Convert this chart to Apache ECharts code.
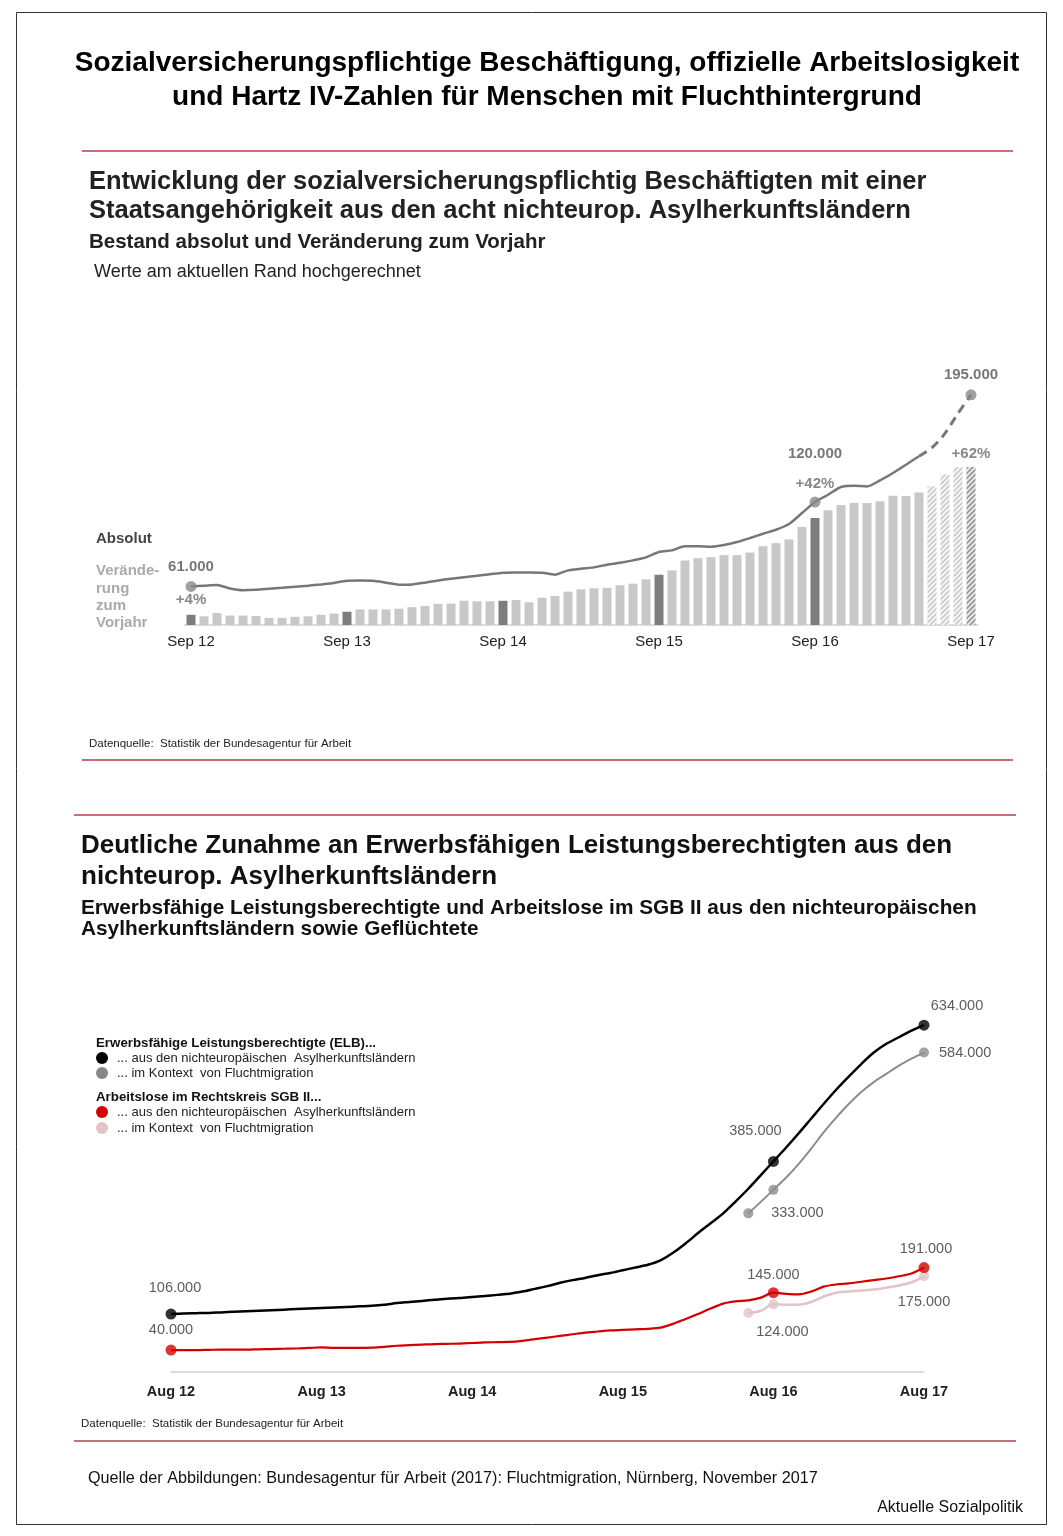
<!DOCTYPE html>
<html><head><meta charset="utf-8">
<script src="https://cdn.jsdelivr.net/npm/echarts@6/dist/echarts.min.js"></script>
<style>html,body{margin:0;padding:0;background:#fff}#c{width:1063px;height:1536px}</style>
</head><body><div id="c"></div>
<script>
// ---------- DATA ----------
const monthNames = ['Jan','Feb','Mär','Apr','Mai','Jun','Jul','Aug','Sep','Okt','Nov','Dez'];
// Top chart: monthly Sep 12 .. Sep 17
const topStart = {month: 8, year: 12};
// Beschäftigte (Bestand absolut, in Tsd.)
const beschaeftigteTsd = [61,61.5,62,59.5,58.3,58.6,59.3,60,60.8,61.5,62.4,63.4,65,
  65.1,65,63.6,62.2,62.4,63.6,65.1,66.3,67.4,68.4,69.5,70.6,
  70.8,70.8,70.6,69.2,72.2,73.4,74.3,76.2,77.5,79.2,81.3,85,
  86.2,89,89,88.7,89.9,92,94.8,97.8,100.6,104.6,112.3,120,
  125.1,130.5,131.4,130.9,135.1,140.3,146.1,152,158,168,182,195];
// Veränderung zum Vorjahr in %
const veraenderungPct = [4,3.4,4.7,3.7,3.7,3.5,2.8,2.8,3.2,3.4,4.0,4.5,5.2,
  6.1,6.1,6.1,6.4,7.0,7.5,8.3,8.4,9.5,9.3,9.3,9.5,
  9.8,8.9,10.7,11.4,13.1,14.0,14.4,14.6,15.6,16.2,17.9,19.7,
  21.4,25.3,26.2,26.6,27.4,27.4,28.4,30.9,32.1,33.5,38.4,42,
  45.0,47.1,47.8,47.8,48.5,50.7,50.6,52.0,54.3,59.0,61.9,62];
const lastActualIdx = 56;          // May 17: last non-projected line value
const projectedBarsFrom = 57;      // Jun 17..Sep 17 hochgerechnet
const topLabelIdx = [0, 48, 60];   // Sep 12, Sep 16, Sep 17

// Bottom chart: monthly Aug 12 .. Aug 17 (in Tsd.)
const bottomStart = {month: 7, year: 12};
const elbAsyl = [106,107,107.5,108,109,110,111,112,113,114,115,116,117,
  118,119,120,121,123,126,128,130,132,134,135.5,137,
  139,141,143,147,152,157,163,168,172,177,181,186,
  191,196,204,218,235,254,272,290,312,335,360,385,
  410,436,463,490,516,540,563,584,600,612,624,634];
const elbFlucht = {start: 46, values: [290,311,333,355,380,408,438,465,490,512,530,545,560,573,584]};
const alAsyl = [40,40,40,40.5,41,41,41,41.5,42,42.5,43,44,45,
  44,44,44,44.5,46,48,49,50,51,51.5,52,53,
  54,54.5,55,57,60,63,66,69,72,74,76,77,
  78,79,81,88,97,106,116,125,129,131,136,145,
  143,142,147,156,160,162,165,168,171,175,180,191];
const alFlucht = {start: 46, values: [108,112,124,123,123,128,138,145,147,149,151,154,158,164,175]};

// ---------- HELPERS ----------
function cats(start, n){
  const out=[]; for(let i=0;i<n;i++){const m=(start.month+i)%12; const y=start.year+Math.floor((start.month+i)/12); out.push(monthNames[m]+' '+y);} return out;
}
const topCats = cats(topStart, beschaeftigteTsd.length);
const botCats = cats(bottomStart, elbAsyl.length);
const fmt = v => String(Math.round(v*1000)).replace(/\B(?=(\d{3})+(?!\d))/g,'.');
const FONT = '"Liberation Sans", Arial, Helvetica, sans-serif';
function hatch(line, bg){
  const c=document.createElement('canvas'); c.width=c.height=5; const g=c.getContext('2d');
  g.fillStyle=bg; g.fillRect(0,0,5,5); g.strokeStyle=line; g.lineWidth=1.4; g.beginPath();
  g.moveTo(0,5); g.lineTo(5,0); g.moveTo(-1,1); g.lineTo(1,-1); g.moveTo(4,6); g.lineTo(6,4); g.stroke(); return c;
}
const hatchLight = {image: hatch('#c4c4c4','#f5f5f5'), repeat:'repeat'};
const hatchDark = {image: hatch('#8a8a8a','#e6e6e6'), repeat:'repeat'};

function pad(start, vals, n){ const a=new Array(n).fill(null); vals.forEach((v,i)=>a[start+i]=v); return a; }

// ---------- TOP SERIES DATA ----------
const barData = veraenderungPct.map((v,i)=>{
  let color = '#c8c8c8';
  if (i % 12 === 0) color = '#7d7d7d';
  if (i >= projectedBarsFrom) color = hatchLight;
  if (i === veraenderungPct.length-1) color = hatchDark;
  const item = {value: v, itemStyle:{color}};
  if (topLabelIdx.includes(i)) {
    item.label = {show:true, position:'top', distance: i===48?27:(i===60?6:7), formatter:'+'+v+'%',
      color:'#888', fontSize:15, fontWeight:'bold', fontFamily:FONT};
  }
  return item;
});
const lineSolid = beschaeftigteTsd.map((v,i)=> i<=lastActualIdx ? v : null);
const lineDashed = beschaeftigteTsd.map((v,i)=> i>=lastActualIdx ? v : null);
const topPoints = topLabelIdx.map(i=>({value:[i, beschaeftigteTsd[i]],
  label:{show:true, position:'top', distance: i===48?35:7, formatter: fmt(beschaeftigteTsd[i]),
  color:'#555', fontSize:15, fontWeight:'bold', fontFamily:FONT}}));

// ---------- BOTTOM SERIES DATA ----------
const N = elbAsyl.length;
const elbFluchtArr = pad(elbFlucht.start, elbFlucht.values, N);
const alFluchtArr = pad(alFlucht.start, alFlucht.values, N);
const iAug16 = 48, iAug17 = N-1;
const lblStyle = {color:'#333', fontSize:14.5, fontFamily:FONT};
function pt(i, v, label){ const o={value:[i,v]}; if(label){o.label=Object.assign({show:true, formatter: fmt(v)}, lblStyle, label);} return o; }
const ptsBlack = [pt(0, elbAsyl[0], {position:'top', distance:13, offset:[4,0]}),
  pt(iAug16, elbAsyl[iAug16], {position:'top', distance:17, offset:[-18,0]}),
  pt(iAug17, elbAsyl[iAug17], {position:'top', distance:6, offset:[33,0]})];
const ptsGray = [pt(elbFlucht.start, elbFluchtArr[elbFlucht.start]),
  pt(iAug16, elbFluchtArr[iAug16], {position:'bottom', distance:11, offset:[24,0]}),
  pt(iAug17, elbFluchtArr[iAug17], {position:'right', distance:10})];
const ptsRed = [pt(0, alAsyl[0], {position:'top', distance:7}),
  pt(iAug16, alAsyl[iAug16], {position:'top', distance:5}),
  pt(iAug17, alAsyl[iAug17], {position:'top', distance:6, offset:[2,0]})];
const ptsPink = [pt(alFlucht.start, alFluchtArr[alFlucht.start]),
  pt(iAug16, alFluchtArr[iAug16], {position:'bottom', distance:15, offset:[9,0]}),
  pt(iAug17, alFluchtArr[iAug17], {position:'bottom', distance:13})];

// ---------- GRAPHIC (texts, rules, legend) ----------
const RED = '#c46f7a';
function txt(x,y,text,font,fill,align){ return {type:'text', silent:true, style:{x, y, text, font, fill:fill||'#000',
  textAlign:align||'left', align:align||'left', textVerticalAlign:'middle', verticalAlign:'middle'}}; }
function hline(x1,x2,y,color,w){ return {type:'line', silent:true, shape:{x1,y1:y,x2,y2:y}, style:{stroke:color, lineWidth:w}}; }
const graphics = [
  {type:'rect', silent:true, shape:{x:16.5,y:12.5,width:1030,height:1512}, style:{fill:'none', stroke:'#333', lineWidth:1}},
  txt(547,63,'Sozialversicherungspflichtige Beschäftigung, offizielle Arbeitslosigkeit','bold 28px '+FONT,'#000','center'),
  txt(547,97,'und Hartz IV-Zahlen für Menschen mit Fluchthintergrund','bold 28px '+FONT,'#000','center'),
  hline(82,1013,151,RED,2),
  txt(89,182,'Entwicklung der sozialversicherungspflichtig Beschäftigten mit einer','bold 25.5px '+FONT,'#222'),
  txt(89,211,'Staatsangehörigkeit aus den acht nichteurop. Asylherkunftsländern','bold 25.5px '+FONT,'#222'),
  txt(89,242,'Bestand absolut und Veränderung zum Vorjahr','bold 20.5px '+FONT,'#222'),
  txt(94,272,'Werte am aktuellen Rand hochgerechnet','18px '+FONT,'#222'),
  txt(96,539,'Absolut','bold 15px '+FONT,'#444'),
  txt(96,571,'Verände-','bold 15px '+FONT,'#aaa'),
  txt(96,589,'rung','bold 15px '+FONT,'#aaa'),
  txt(96,606,'zum','bold 15px '+FONT,'#aaa'),
  txt(96,623,'Vorjahr','bold 15px '+FONT,'#aaa'),
  txt(89,744,'Datenquelle:  Statistik der Bundesagentur für Arbeit','11.5px '+FONT,'#222'),
  hline(82,1013,760,RED,2),
  hline(74,1016,815,RED,2),
  txt(81,846,'Deutliche Zunahme an Erwerbsfähigen Leistungsberechtigten aus den','bold 26px '+FONT,'#111'),
  txt(81,877,'nichteurop. Asylherkunftsländern','bold 26px '+FONT,'#111'),
  txt(81,908,'Erwerbsfähige Leistungsberechtigte und Arbeitslose im SGB II aus den nichteuropäischen','bold 20.8px '+FONT,'#111'),
  txt(81,929,'Asylherkunftsländern sowie Geflüchtete','bold 20.8px '+FONT,'#111'),
  // legend
  txt(96,1043,'Erwerbsfähige Leistungsberechtigte (ELB)...','bold 13.3px '+FONT,'#111'),
  {type:'circle', silent:true, shape:{cx:102,cy:1058,r:6}, style:{fill:'#000'}},
  txt(117,1058,'... aus den nichteuropäischen  Asylherkunftsländern','13px '+FONT,'#222'),
  {type:'circle', silent:true, shape:{cx:102,cy:1073,r:6}, style:{fill:'#888'}},
  txt(117,1073,'... im Kontext  von Fluchtmigration','13px '+FONT,'#222'),
  txt(96,1097,'Arbeitslose im Rechtskreis SGB II...','bold 13.3px '+FONT,'#111'),
  {type:'circle', silent:true, shape:{cx:102,cy:1112,r:6}, style:{fill:'#d40000'}},
  txt(117,1112,'... aus den nichteuropäischen  Asylherkunftsländern','13px '+FONT,'#222'),
  {type:'circle', silent:true, shape:{cx:102,cy:1128,r:6}, style:{fill:'#e3c3c6'}},
  txt(117,1128,'... im Kontext  von Fluchtmigration','13px '+FONT,'#222'),
  txt(81,1424,'Datenquelle:  Statistik der Bundesagentur für Arbeit','11.5px '+FONT,'#222'),
  hline(74,1016,1441,RED,2),
  txt(88,1479,'Quelle der Abbildungen: Bundesagentur für Arbeit (2017): Fluchtmigration, Nürnberg, November 2017','16.2px '+FONT,'#111'),
  txt(1023,1508,'Aktuelle Sozialpolitik','16px '+FONT,'#111','right')
];

// ---------- CHART ----------
const chart = echarts.init(document.getElementById('c'), null, {renderer:'canvas'});
const TOP_BASE = 625, TOP_H = 252;
const BOT_BASE = 1372, BOT_H = 372;
chart.setOption({
  animation:false,
  backgroundColor:'#fff',
  graphic: graphics,
  grid:[
    {left:184.5, width:793, top:TOP_BASE-TOP_H, height:TOP_H, containLabel:false},
    {left:171, width:753, top:BOT_BASE-BOT_H, height:BOT_H, containLabel:false}
  ],
  xAxis:[
    {type:'category', gridIndex:0, data:topCats, boundaryGap:true,
     axisLine:{lineStyle:{color:'#cfcfcf', width:1.5}}, axisTick:{show:false},
     axisLabel:{interval:(i)=>i%12===0, color:'#222', fontSize:15, fontFamily:FONT, margin:9}},
    {type:'category', gridIndex:1, data:botCats, boundaryGap:false,
     axisLine:{lineStyle:{color:'#cfcfcf', width:1.5}}, axisTick:{show:false},
     axisLabel:{interval:(i)=>i%12===0, color:'#222', fontSize:14.5, fontWeight:'bold', fontFamily:FONT, margin:12}}
  ],
  yAxis:[
    {type:'value', gridIndex:0, min:34, max:34+TOP_H/1.43, show:false},
    {type:'value', gridIndex:0, min:0, max:TOP_H/2.55, show:false},
    {type:'value', gridIndex:1, min:0, max:BOT_H/0.547, show:false}
  ],
  series:[
    {type:'bar', xAxisIndex:0, yAxisIndex:1, data:barData, barWidth:9, z:2},
    {type:'line', xAxisIndex:0, yAxisIndex:0, data:lineSolid, symbol:'none', smooth:0.25,
     lineStyle:{color:'#777', width:2.5}, z:3},
    {type:'line', xAxisIndex:0, yAxisIndex:0, data:lineDashed, symbol:'none', smooth:0.25,
     lineStyle:{color:'#777', width:3, type:[9,6]}, z:3},
    {type:'scatter', xAxisIndex:0, yAxisIndex:0, data:topPoints, symbolSize:11, itemStyle:{color:'#888'}, z:4},

    {type:'line', xAxisIndex:1, yAxisIndex:2, data:alFluchtArr, symbol:'none', smooth:0.3,
     lineStyle:{color:'#e3c3c6', width:2.5}, z:3},
    {type:'line', xAxisIndex:1, yAxisIndex:2, data:alAsyl, symbol:'none', smooth:0.3,
     lineStyle:{color:'#d40000', width:2.2}, z:4},
    {type:'line', xAxisIndex:1, yAxisIndex:2, data:elbFluchtArr, symbol:'none', smooth:0.3,
     lineStyle:{color:'#8c8c8c', width:2}, z:3},
    {type:'line', xAxisIndex:1, yAxisIndex:2, data:elbAsyl, symbol:'none', smooth:0.3,
     lineStyle:{color:'#000', width:2.5}, z:4},
    {type:'scatter', xAxisIndex:1, yAxisIndex:2, data:ptsPink, symbolSize:10, itemStyle:{color:'#e3c3c6'}, z:5},
    {type:'scatter', xAxisIndex:1, yAxisIndex:2, data:ptsRed, symbolSize:11, itemStyle:{color:'#d40000'}, z:6},
    {type:'scatter', xAxisIndex:1, yAxisIndex:2, data:ptsGray, symbolSize:10, itemStyle:{color:'#8c8c8c'}, z:5},
    {type:'scatter', xAxisIndex:1, yAxisIndex:2, data:ptsBlack, symbolSize:11, itemStyle:{color:'#000'}, z:6}
  ]
});
</script></body></html>
